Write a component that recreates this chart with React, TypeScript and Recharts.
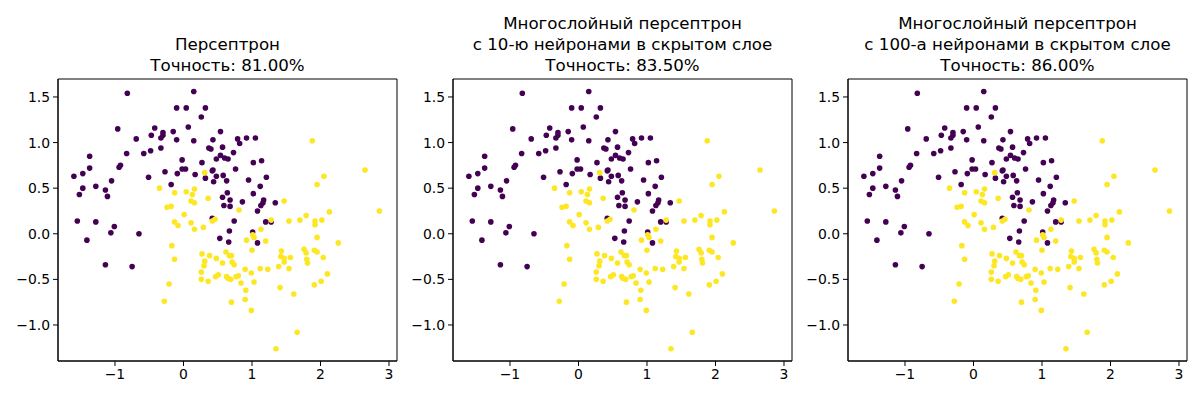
import React from "react";
import { ScatterChart, Scatter, XAxis, YAxis, ReferenceArea } from "recharts";

// Points of class 0 (purple) and class 1 (yellow): [x, y]
const class0Points: [number, number][] = [
  [-0.82, 1.54], [0.15, 1.56], [-0.10, 1.38], [0.04, 1.38], [0.32, 1.38], [0.26, 1.28], [0.07, 1.17],
  [-0.96, 1.15], [-0.42, 1.16], [-0.47, 1.08], [-0.30, 1.11], [-0.33, 1.05], [-0.30, 1.08], [-0.15, 1.12],
  [-0.10, 1.03], [0.15, 1.02], [0.54, 1.12], [0.43, 1.03], [-0.69, 1.04], [-0.33, 0.94], [-0.48, 0.91],
  [-0.58, 0.88], [-0.83, 0.88], [-1.37, 0.85], [0.37, 0.94], [0.40, 0.93], [0.57, 0.95], [0.48, 0.82],
  [0.54, 0.86], [0.60, 0.83], [0.65, 0.82], [-0.02, 0.81], [0.27, 0.78], [-0.02, 0.71], [0.03, 0.71],
  [0.43, 0.70], [0.42, 0.69], [-0.27, 0.68], [-0.09, 0.66], [0.17, 0.65], [0.32, 0.61], [0.48, 0.63],
  [0.58, 0.64], [0.44, 0.57], [-0.94, 0.73], [-0.92, 0.75], [-1.37, 0.72], [-1.60, 0.63], [-1.47, 0.66],
  [-1.05, 0.58], [-0.51, 0.62], [-0.18, 0.54], [-1.47, 0.50], [-1.28, 0.52], [-1.14, 0.48], [-1.52, 0.43],
  [-1.11, 0.41], [0.57, 0.40], [0.64, 0.45], [0.59, 0.31], [0.68, 0.37], [0.68, 0.30], [-1.55, 0.14],
  [-1.28, 0.13], [0.42, 0.17], [0.79, 1.04], [0.92, 1.05], [1.05, 1.05], [0.82, 0.99], [0.73, 0.89],
  [1.02, 0.78], [1.14, 0.80], [0.76, 0.71], [0.63, 0.58], [0.95, 0.59], [1.21, 0.62], [1.12, 0.52],
  [1.02, 0.44], [0.86, 0.35], [1.17, 0.37], [1.16, 0.34], [1.34, 0.34], [1.13, 0.31], [1.08, 0.25],
  [0.74, 0.14], [1.20, 0.13], [1.28, 0.13], [-1.01, 0.08], [-1.06, 0.01], [-1.41, -0.07], [-0.65, 0.00],
  [-1.14, -0.34], [-0.75, -0.36], [0.67, 0.03], [0.53, -0.05], [0.66, -0.09], [1.01, 0.02], [1.08, -0.10],
];

const class1Points: [number, number][] = [
  [0.31, 0.67], [-0.35, 0.50], [-0.13, 0.45], [0.04, 0.46], [0.16, 0.49], [0.13, 0.43], [0.11, 0.36],
  [0.16, 0.34], [0.36, 0.39], [-0.24, 0.29], [-0.18, 0.30], [0.01, 0.21], [-0.13, 0.13], [-0.08, 0.09],
  [0.11, 0.12], [0.42, 0.14], [0.46, 0.16], [1.88, 1.02], [2.65, 0.70], [2.05, 0.63], [1.95, 0.54],
  [1.47, 0.36], [0.81, 0.26], [2.13, 0.24], [2.86, 0.25], [1.28, 0.15], [1.54, 0.14], [1.70, 0.15],
  [1.79, 0.20], [1.92, 0.14], [2.02, 0.15], [0.16, 0.05], [0.29, 0.07], [-0.17, -0.13], [-0.13, -0.28],
  [-0.21, -0.55], [-0.28, -0.74], [0.27, -0.22], [0.38, -0.24], [0.48, -0.27], [0.62, -0.20], [0.67, -0.24],
  [0.70, -0.24], [0.31, -0.30], [0.30, -0.35], [0.57, -0.32], [0.71, -0.31], [0.74, -0.34], [0.26, -0.42],
  [0.26, -0.50], [0.36, -0.52], [0.47, -0.47], [0.51, -0.45], [0.63, -0.47], [0.65, -0.49], [0.69, -0.50],
  [0.70, -0.75], [1.92, 0.10], [1.13, 0.05], [1.01, -0.01], [1.03, -0.04], [0.92, -0.07], [1.20, -0.08],
  [1.00, -0.18], [1.95, -0.04], [2.26, -0.10], [1.43, -0.19], [1.42, -0.25], [1.47, -0.27], [1.47, -0.31],
  [1.56, -0.26], [1.76, -0.17], [1.79, -0.21], [1.80, -0.28], [1.81, -0.32], [1.91, -0.18], [1.95, -0.20],
  [2.04, -0.26], [1.39, -0.36], [1.54, -0.38], [2.10, -0.44], [2.01, -0.52], [1.91, -0.56], [1.41, -0.59],
  [1.61, -0.66], [1.66, -1.08], [1.35, -1.26], [0.90, -0.39], [1.12, -0.38], [1.23, -0.39], [0.99, -0.43],
  [0.77, -0.47], [0.80, -0.46], [0.84, -0.54], [1.03, -0.53], [0.91, -0.62], [0.90, -0.72], [0.99, -0.84],
];

const titles: string[][] = [
  ["Персептрон", "Точность: 81.00%"],
  ["Многослойный персептрон", "с 10-ю нейронами в скрытом слое", "Точность: 83.50%"],
  ["Многослойный персептрон", "с 100-а нейронами в скрытом слое", "Точность: 86.00%"],
];

const xTicks = [-1, 0, 1, 2, 3];
const yTicks = [-1, -0.5, 0, 0.5, 1, 1.5];
const xDomain: [number, number] = [-1.832, 3.117];
const yDomain: [number, number] = [-1.395, 1.697];

const PURPLE = "#440154";
const YELLOW = "#fde725";
const FONT = "'DejaVu Sans', sans-serif";

const data0 = class0Points.map(([x, y]) => ({ x, y }));
const data1 = class1Points.map(([x, y]) => ({ x, y }));

const fmtMinus = (s: string) => s.replace("-", "\u2212");

const dot = (color: string) => (props: any) => (
  <circle cx={props.cx} cy={props.cy} r={2.8} fill={color} />
);

const chartLefts = [0, 395, 790];
const plotLefts = [58, 453, 848];

function Panel({ idx }: { idx: number }) {
  return (
    <div style={{ position: "absolute", left: chartLefts[idx], top: 0 }}>
      <ScatterChart width={400} height={400} margin={{ top: 79, right: 3, left: 0, bottom: 0 }}>
        <XAxis
          type="number"
          dataKey="x"
          domain={xDomain}
          ticks={xTicks}
          allowDataOverflow
          height={39}
          tickSize={5}
          tickMargin={3}
          stroke="#000"
          tick={{ fill: "#000", fontSize: 13.9, fontFamily: FONT }}
          tickFormatter={(v: number) => fmtMinus(String(v))}
        />
        <YAxis
          type="number"
          dataKey="y"
          domain={yDomain}
          ticks={yTicks}
          allowDataOverflow
          width={58}
          tickSize={5}
          tickMargin={3}
          stroke="#000"
          tick={{ fill: "#000", fontSize: 13.9, fontFamily: FONT }}
          tickFormatter={(v: number) => fmtMinus(v.toFixed(1))}
        />
        <Scatter data={data0} fill={PURPLE} shape={dot(PURPLE)} isAnimationActive={false} />
        <Scatter data={data1} fill={YELLOW} shape={dot(YELLOW)} isAnimationActive={false} />
        <ReferenceArea
          x1={xDomain[0]}
          x2={xDomain[1]}
          y1={yDomain[0]}
          y2={yDomain[1]}
          fill="none"
          fillOpacity={0}
          stroke="#000"
          strokeWidth={1}
          ifOverflow="visible"
        />
      </ScatterChart>
    </div>
  );
}

export default function App() {
  return (
    <div style={{ position: "relative", width: 1200, height: 400, background: "#fff", fontFamily: FONT }}>
      <style>{`body{margin:0;}`}</style>
      {[0, 1, 2].map((i) => (
        <Panel key={i} idx={i} />
      ))}
      {titles.map((lines, i) => (
        <div
          key={i}
          style={{
            position: "absolute",
            left: plotLefts[i],
            width: 339,
            top: 75.5 - 21 * lines.length,
            textAlign: "center",
            fontSize: 16.67,
            lineHeight: "21px",
            color: "#000",
            fontFamily: FONT,
          }}
        >
          {lines.map((l, j) => (
            <div key={j}>{l}</div>
          ))}
        </div>
      ))}
    </div>
  );
}
